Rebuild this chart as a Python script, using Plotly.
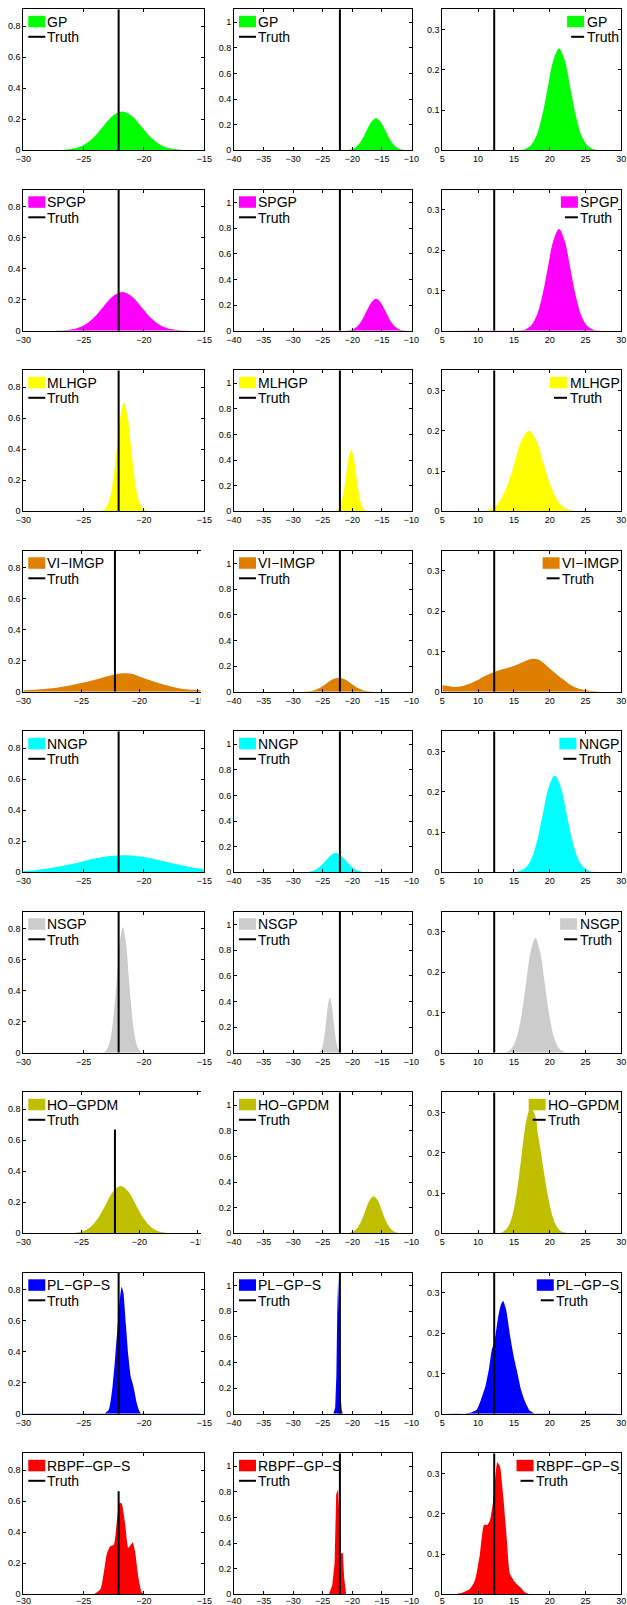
import plotly.graph_objects as go

W, H = 627, 1605

methods = ["GP", "SPGP", "MLHGP", "VI−IMGP", "NNGP", "NSGP", "HO−GPDM", "PL−GP−S", "RBPF−GP−S"]
colors = ["#00FF00", "#FF00FF", "#FFFF00", "#DF7F00", "#00FFFF", "#CCCCCC", "#BFBF00", "#0000FF", "#FF0000"]
truth_values = [-22.1, -22.1, 12.25]

col_ranges = [[-30, -15], [-40, -10], [5, 30]]
col_wide_range = [-30, -10]          # first-column panels whose axis is wider and cut off
wide_rows = [3, 6]
y_ranges = [[0, 0.91], [0, 1.1], [0, 0.35]]
x_ticks = [[-30, -25, -20, -15], [-40, -35, -30, -25, -20, -15, -10], [5, 10, 15, 20, 25, 30]]
y_ticks = [[0, 0.2, 0.4, 0.6, 0.8], [0, 0.2, 0.4, 0.6, 0.8, 1], [0, 0.1, 0.2, 0.3]]
# truth line height where it does not span the full axis (row, col) -> top
truth_tops = {(6, 0): 0.67, (8, 0): 0.665}

# ---------------- densities ----------------
gp_c1_x = [-30, -27.4, -26.6, -25.8, -25.0, -24.2, -23.4, -22.6, -21.8, -21.0, -20.2, -19.4, -18.6, -17.8, -17.0, -16.2, -15]
gp_c1_y = [0, 0.0006, 0.0028, 0.011, 0.034, 0.081, 0.152, 0.221, 0.25, 0.221, 0.152, 0.081, 0.034, 0.011, 0.0028, 0.0006, 0]
gp_c2_x = [-40, -21.6, -20.8, -20.0, -19.2, -18.4, -17.6, -16.8, -16.0, -15.2, -14.4, -13.6, -12.8, -12.0, -11.2, -10.4, -10]
gp_c2_y = [0, 0.0006, 0.0028, 0.011, 0.034, 0.081, 0.152, 0.221, 0.25, 0.221, 0.152, 0.081, 0.034, 0.011, 0.0028, 0.0006, 0.0003]
gp_c3_x = [5, 15.7, 16.5, 17.3, 18.1, 18.9, 19.7, 20.5, 21.3, 22.1, 22.9, 23.7, 24.5, 25.3, 26.1, 26.9, 30]
gp_c3_y = [0, 0.0006, 0.0028, 0.011, 0.034, 0.082, 0.153, 0.223, 0.253, 0.223, 0.153, 0.082, 0.034, 0.011, 0.0028, 0.0006, 0]

spgp_c1_x = [-30, -27.4, -26.6, -25.8, -25.0, -24.2, -23.4, -22.6, -21.8, -21.0, -20.2, -19.4, -18.6, -17.8, -17.0, -16.2, -15]
spgp_c1_y = [0, 0.0006, 0.0028, 0.011, 0.034, 0.081, 0.152, 0.221, 0.25, 0.221, 0.152, 0.081, 0.034, 0.011, 0.0028, 0.0006, 0]
spgp_c2_x = [-40, -21.6, -20.8, -20.0, -19.2, -18.4, -17.6, -16.8, -16.0, -15.2, -14.4, -13.6, -12.8, -12.0, -11.2, -10.4, -10]
spgp_c2_y = [0, 0.0006, 0.0028, 0.011, 0.034, 0.081, 0.152, 0.221, 0.25, 0.221, 0.152, 0.081, 0.034, 0.011, 0.0028, 0.0006, 0.0003]
spgp_c3_x = [5, 15.7, 16.5, 17.3, 18.1, 18.9, 19.7, 20.5, 21.3, 22.1, 22.9, 23.7, 24.5, 25.3, 26.1, 26.9, 30]
spgp_c3_y = [0, 0.0006, 0.0028, 0.011, 0.034, 0.082, 0.153, 0.223, 0.253, 0.223, 0.153, 0.082, 0.034, 0.011, 0.0028, 0.0006, 0]

mlhgp_c1_x = [-30, -23.65, -23.36, -23.08, -22.79, -22.51, -22.22, -21.94, -21.65, -21.37, -21.08, -20.80, -20.51, -20.23, -19.94, -19.66, -15]
mlhgp_c1_y = [0, 0.0015, 0.0078, 0.031, 0.095, 0.227, 0.425, 0.618, 0.70, 0.618, 0.425, 0.227, 0.095, 0.031, 0.0078, 0.0015, 0]
mlhgp_c2_x = [-40, -23.1, -22.69, -22.28, -21.86, -21.45, -21.03, -20.62, -20.2, -19.79, -19.37, -18.96, -18.54, -18.13, -17.71, -17.3, -10]
mlhgp_c2_y = [0, 0.001, 0.0053, 0.021, 0.065, 0.156, 0.291, 0.424, 0.48, 0.424, 0.291, 0.156, 0.065, 0.021, 0.0053, 0.001, 0]
mlhgp_c3_x = [5, 10.1, 11.1, 12.1, 13.1, 14.1, 15.1, 16.1, 17.1, 18.1, 19.1, 20.1, 21.1, 22.1, 23.1, 24.1, 30]
mlhgp_c3_y = [0, 0.0004, 0.0022, 0.0088, 0.027, 0.065, 0.121, 0.177, 0.20, 0.177, 0.121, 0.065, 0.027, 0.0088, 0.0022, 0.0004, 0]

vi_c1_x = [-30, -29, -28, -27, -26, -25, -24, -23, -22, -21.3, -20.5, -20, -19, -18, -17, -16, -15, -14.7]
vi_c1_y = [0.010, 0.013, 0.019, 0.028, 0.04, 0.056, 0.074, 0.095, 0.113, 0.119, 0.113, 0.099, 0.073, 0.048, 0.029, 0.016, 0.011, 0.010]
vi_c2_x = [-40, -29.3, -28.3, -27.3, -26.3, -25.3, -24.3, -23.3, -22.3, -21.3, -20.3, -19.3, -18.3, -17.3, -16.3, -15.3, -10]
vi_c2_y = [0, 0.0002, 0.0012, 0.0048, 0.015, 0.036, 0.067, 0.097, 0.11, 0.097, 0.067, 0.036, 0.015, 0.0048, 0.0012, 0.0002, 0]
vi_c3_x = [5, 6, 6.8, 8.2, 9.8, 11, 12.26, 13.4, 14.45, 15.5, 16.55, 17.3, 17.8, 18.4, 19.1, 20, 21, 22, 22.8, 23.7, 24.7, 26.6, 28, 30]
vi_c3_y = [0.0165, 0.014, 0.012, 0.016, 0.028, 0.04, 0.049, 0.056, 0.061, 0.068, 0.076, 0.081, 0.082, 0.08, 0.072, 0.058, 0.043, 0.029, 0.018, 0.01, 0.005, 0.001, 0.0003, 0]

nngp_c1_x = [-30, -29, -28, -27, -26, -25, -24, -23, -22, -21.7, -21, -20, -19, -18, -17, -16, -15]
nngp_c1_y = [0.0077, 0.014, 0.024, 0.037, 0.054, 0.072, 0.090, 0.103, 0.1097, 0.11, 0.108, 0.098, 0.083, 0.065, 0.047, 0.031, 0.019]
nngp_c2_x = [-40, -28.75, -27.9, -27.05, -26.2, -25.35, -24.5, -23.65, -22.8, -21.95, -21.1, -20.25, -19.4, -18.55, -17.7, -16.85, -10]
nngp_c2_y = [0, 0.0003, 0.0017, 0.0066, 0.020, 0.049, 0.091, 0.132, 0.15, 0.132, 0.091, 0.049, 0.020, 0.0066, 0.0017, 0.0003, 0]
nngp_c3_x = [5, 14.93, 15.75, 16.58, 17.4, 18.23, 19.05, 19.88, 20.7, 21.53, 22.35, 23.18, 24.0, 24.83, 25.65, 26.48, 30]
nngp_c3_y = [0, 0.0005, 0.0027, 0.0105, 0.032, 0.078, 0.146, 0.212, 0.24, 0.212, 0.146, 0.078, 0.032, 0.0105, 0.0027, 0.0005, 0]

nsgp_c1_x = [-30, -23.47, -23.22, -22.98, -22.73, -22.49, -22.24, -22.0, -21.75, -21.5, -21.26, -21.01, -20.77, -20.52, -20.28, -20.03, -15]
nsgp_c1_y = [0, 0.0018, 0.009, 0.036, 0.11, 0.263, 0.491, 0.715, 0.81, 0.715, 0.491, 0.263, 0.11, 0.036, 0.009, 0.0018, 0]
nsgp_c2_x = [-40, -25.9, -25.6, -25.3, -25.0, -24.7, -24.4, -24.1, -23.8, -23.5, -23.2, -22.9, -22.6, -22.3, -22.0, -21.7, -10]
nsgp_c2_y = [0, 0.0009, 0.0048, 0.019, 0.058, 0.14, 0.261, 0.379, 0.43, 0.379, 0.261, 0.14, 0.058, 0.019, 0.0048, 0.0009, 0]
nsgp_c3_x = [5, 13.45, 14.1, 14.75, 15.4, 16.05, 16.7, 17.35, 18.0, 18.65, 19.3, 19.95, 20.6, 21.25, 21.9, 22.55, 30]
nsgp_c3_y = [0, 0.0006, 0.0032, 0.0125, 0.0386, 0.0925, 0.173, 0.252, 0.285, 0.252, 0.173, 0.0925, 0.0386, 0.0125, 0.0032, 0.0006, 0]

ho_c1_x = [-30, -26.15, -25.5, -24.85, -24.2, -23.55, -22.9, -22.25, -21.6, -20.95, -20.3, -19.65, -19.0, -18.35, -17.7, -17.05, -14.7]
ho_c1_y = [0, 0.0007, 0.0034, 0.0134, 0.0413, 0.099, 0.185, 0.269, 0.305, 0.269, 0.185, 0.099, 0.0413, 0.0134, 0.0034, 0.0007, 0]
ho_c2_x = [-40, -21.3, -20.6, -19.9, -19.2, -18.5, -17.8, -17.1, -16.4, -15.7, -15.0, -14.3, -13.6, -12.9, -12.2, -11.5, -10]
ho_c2_y = [0, 0.0006, 0.0032, 0.0127, 0.039, 0.094, 0.176, 0.256, 0.29, 0.256, 0.176, 0.094, 0.039, 0.0127, 0.0032, 0.0006, 0.0001]
ho_c3_x = [5, 12.8, 13.45, 14.1, 14.75, 15.4, 16.05, 16.7, 17.35, 17.8, 18.15, 18.25, 18.65, 19.3, 19.95, 20.6, 21.25, 21.9, 30]
ho_c3_y = [0, 0.0007, 0.0035, 0.0137, 0.042, 0.102, 0.19, 0.276, 0.313, 0.3, 0.28, 0.258, 0.215, 0.14, 0.075, 0.031, 0.01, 0.0025, 0]

pl_c1_x = [-30, -23.3, -22.9, -22.6, -22.4, -22.2, -22.0, -21.85, -21.7, -21.5, -21.3, -21.1, -20.95, -20.8, -20.6, -20.4, -20.2, -15]
pl_c1_y = [0, 0, 0.03, 0.18, 0.35, 0.55, 0.74, 0.82, 0.78, 0.58, 0.38, 0.24, 0.2, 0.15, 0.07, 0.02, 0, 0]
pl_c2_x = [-40, -23.2, -22.9, -22.7, -22.55, -22.4, -22.3, -22.2, -22.0, -21.8, -21.6, -10]
pl_c2_y = [0, 0, 0.05, 0.3, 0.8, 1.05, 0.9, 0.5, 0.15, 0.03, 0, 0]
pl_c3_x = [5, 8.0, 9.0, 9.8, 10.4, 11.0, 11.5, 11.9, 12.3, 12.8, 13.2, 13.5, 13.9, 14.5, 15.0, 15.4, 16.0, 16.5, 17.2, 18.0, 30]
pl_c3_y = [0, 0, 0.003, 0.01, 0.035, 0.067, 0.11, 0.158, 0.18, 0.24, 0.272, 0.28, 0.26, 0.19, 0.14, 0.109, 0.06, 0.033, 0.008, 0, 0]

rb_c1_x = [-30, -24.2, -23.6, -23.08, -22.8, -22.5, -22.25, -22.03, -21.84, -21.56, -21.3, -21.1, -20.93, -20.74, -20.46, -20.19, -19.9, -15]
rb_c1_y = [0, 0, 0.034, 0.26, 0.31, 0.32, 0.47, 0.59, 0.585, 0.455, 0.30, 0.32, 0.335, 0.28, 0.11, 0.013, 0, 0]
rb_c2_x = [-40, -23.96, -23.4, -23.0, -22.73, -22.4, -22.17, -21.94, -21.6, -21.38, -21.04, -10]
rb_c2_y = [0, 0, 0.07, 0.24, 0.78, 0.82, 0.58, 0.32, 0.32, 0.13, 0, 0]
rb_c3_x = [5, 6.5, 7.7, 8.86, 9.56, 10.26, 10.82, 11.28, 11.66, 12.12, 12.68, 13.05, 13.52, 13.98, 14.45, 15.15, 15.85, 16.55, 17.24, 30]
rb_c3_y = [0, 0, 0.003, 0.013, 0.034, 0.1, 0.172, 0.172, 0.184, 0.234, 0.328, 0.318, 0.243, 0.143, 0.051, 0.03, 0.018, 0.005, 0, 0]

densities = [
    [(gp_c1_x, gp_c1_y), (gp_c2_x, gp_c2_y), (gp_c3_x, gp_c3_y)],
    [(spgp_c1_x, spgp_c1_y), (spgp_c2_x, spgp_c2_y), (spgp_c3_x, spgp_c3_y)],
    [(mlhgp_c1_x, mlhgp_c1_y), (mlhgp_c2_x, mlhgp_c2_y), (mlhgp_c3_x, mlhgp_c3_y)],
    [(vi_c1_x, vi_c1_y), (vi_c2_x, vi_c2_y), (vi_c3_x, vi_c3_y)],
    [(nngp_c1_x, nngp_c1_y), (nngp_c2_x, nngp_c2_y), (nngp_c3_x, nngp_c3_y)],
    [(nsgp_c1_x, nsgp_c1_y), (nsgp_c2_x, nsgp_c2_y), (nsgp_c3_x, nsgp_c3_y)],
    [(ho_c1_x, ho_c1_y), (ho_c2_x, ho_c2_y), (ho_c3_x, ho_c3_y)],
    [(pl_c1_x, pl_c1_y), (pl_c2_x, pl_c2_y), (pl_c3_x, pl_c3_y)],
    [(rb_c1_x, rb_c1_y), (rb_c2_x, rb_c2_y), (rb_c3_x, rb_c3_y)],
]
smooth_rows = {7: 0.5, 8: 0.5}   # sample-based curves: less smoothing
linear_panels = {(7, 1), (8, 1)}

# ---------------- layout geometry (pixels) ----------------
AX_L = [23.3, 234.0, 442.3]
AX_R = [204.3, 411.5, 621.3]
WIDE_R = 255.3      # right edge the cut-off axes would have
CLIP_R = 200.5      # where they are cut off
ROW_T0, ROW_PITCH, AX_H = 9.3, 180.5, 141.0
LAST_ROW_STANDOFF = -2   # keeps the bottom row's tick labels inside the page

FONT = "Liberation Sans, Arial, Helvetica, sans-serif"
TICK_FONT = dict(family=FONT, size=9, color="black")
LEG_SIZE = 14
LEG_FONT = dict(family=FONT, size=LEG_SIZE, color="black")
# approximate rendered widths of legend labels (Arial metrics, per 1 px of font size)
TEXT_EM = {"GP": 1.445, "SPGP": 2.779, "MLHGP": 3.556, "VI−IMGP": 4.085, "NNGP": 2.889,
           "NSGP": 2.834, "HO−GPDM": 5.084, "PL−GP−S": 4.503, "RBPF−GP−S": 5.947, "Truth": 2.334}


def px(x):
    return x / W


def py(y):
    return 1 - y / H


fig = go.Figure()
shapes, annotations = [], []

for r in range(9):
    top = ROW_T0 + ROW_PITCH * r
    bot = top + AX_H
    for c in range(3):
        i = r * 3 + c + 1
        xa = "x" if i == 1 else f"x{i}"
        ya = "y" if i == 1 else f"y{i}"
        xk = "xaxis" if i == 1 else f"xaxis{i}"
        yk = "yaxis" if i == 1 else f"yaxis{i}"
        cut = (c == 0 and r in wide_rows)
        left = AX_L[c]
        if cut:
            right = CLIP_R
            span = col_wide_range[1] - col_wide_range[0]
            xr = [col_wide_range[0], col_wide_range[0] + span * (CLIP_R - left) / (WIDE_R - left)]
        else:
            right = AX_R[c]
            xr = col_ranges[c]
        yr = y_ranges[c]

        dx, dy = densities[r][c]
        if (r, c) in linear_panels:
            line = dict(width=0, color=colors[r], shape="linear")
        else:
            line = dict(width=0, color=colors[r], shape="spline", smoothing=smooth_rows.get(r, 1.0))
        fig.add_trace(go.Scatter(x=dx, y=dy, xaxis=xa, yaxis=ya, mode="lines", fill="tozeroy",
                                 fillcolor=colors[r], line=line, showlegend=False, hoverinfo="skip"))
        t = truth_values[c]
        ttop = truth_tops.get((r, c), yr[1])
        fig.add_trace(go.Scatter(x=[t, t], y=[0, ttop], xaxis=xa, yaxis=ya, mode="lines",
                                 line=dict(color="black", width=2), showlegend=False, hoverinfo="skip"))

        fig.layout[xk] = dict(domain=[px(left), px(right)], range=xr, anchor=ya, automargin=False,
                              tickmode="array", tickvals=x_ticks[c], ticks="inside", ticklen=3,
                              tickcolor="black", showline=True, linecolor="black", linewidth=1,
                              mirror="allticks", showgrid=False, zeroline=False, tickfont=TICK_FONT,
                              ticklabelstandoff=(LAST_ROW_STANDOFF if r == 8 else 0), fixedrange=True)
        fig.layout[yk] = dict(domain=[py(bot), py(top)], range=yr, anchor=xa, automargin=False,
                              tickmode="array", tickvals=y_ticks[c], ticks="inside", ticklen=3,
                              tickcolor="black", showline=True, linecolor="black", linewidth=1,
                              mirror=(False if cut else "allticks"), showgrid=False, zeroline=False,
                              tickfont=TICK_FONT, fixedrange=True)

        if cut:
            # hide the part of the last tick label that lies beyond the cut
            shapes.append(dict(type="rect", xref="paper", yref="paper", layer="above",
                               x0=px(CLIP_R + 0.3), x1=px(CLIP_R + 8), y0=py(bot + 15), y1=py(bot + 1.5),
                               fillcolor="white", line=dict(width=0)))

        # ---- legend box drawn by hand ----
        name = methods[r]
        if c < 2:
            pl_, pr_ = left + 5, left + 22
            tl = left + 23
            ll, lr = pl_, pr_
        else:
            wmax = max(TEXT_EM[name], TEXT_EM["Truth"]) * LEG_SIZE
            tl = right - 3 - wmax
            pr_ = tl - 1.5
            pl_ = pr_ - 17
            ll, lr = pl_ + 4, pr_
        shapes.append(dict(type="rect", xref="paper", yref="paper", x0=px(pl_), x1=px(pr_),
                           y0=py(top + 18), y1=py(top + 6.5), fillcolor=colors[r], line=dict(width=0)))
        shapes.append(dict(type="line", xref="paper", yref="paper", x0=px(ll), x1=px(lr),
                           y0=py(top + 27.5), y1=py(top + 27.5), line=dict(color="black", width=2)))
        annotations.append(dict(text=name, xref="paper", yref="paper", x=px(tl - 1), y=py(top + 12.5),
                                xanchor="left", yanchor="middle", showarrow=False, font=LEG_FONT))
        annotations.append(dict(text="Truth", xref="paper", yref="paper", x=px(tl - 1), y=py(top + 28),
                                xanchor="left", yanchor="middle", showarrow=False, font=LEG_FONT))

fig.update_layout(width=W, height=H, autosize=False, margin=dict(l=0, r=0, t=0, b=0, pad=0, autoexpand=False),
                  paper_bgcolor="white", plot_bgcolor="white", showlegend=False,
                  shapes=shapes, annotations=annotations, font=dict(family=FONT, color="black"))

fig.write_html("out.html", config={"displayModeBar": False, "staticPlot": True},
               post_script="document.body.style.margin='0px';document.body.style.overflow='hidden';")
